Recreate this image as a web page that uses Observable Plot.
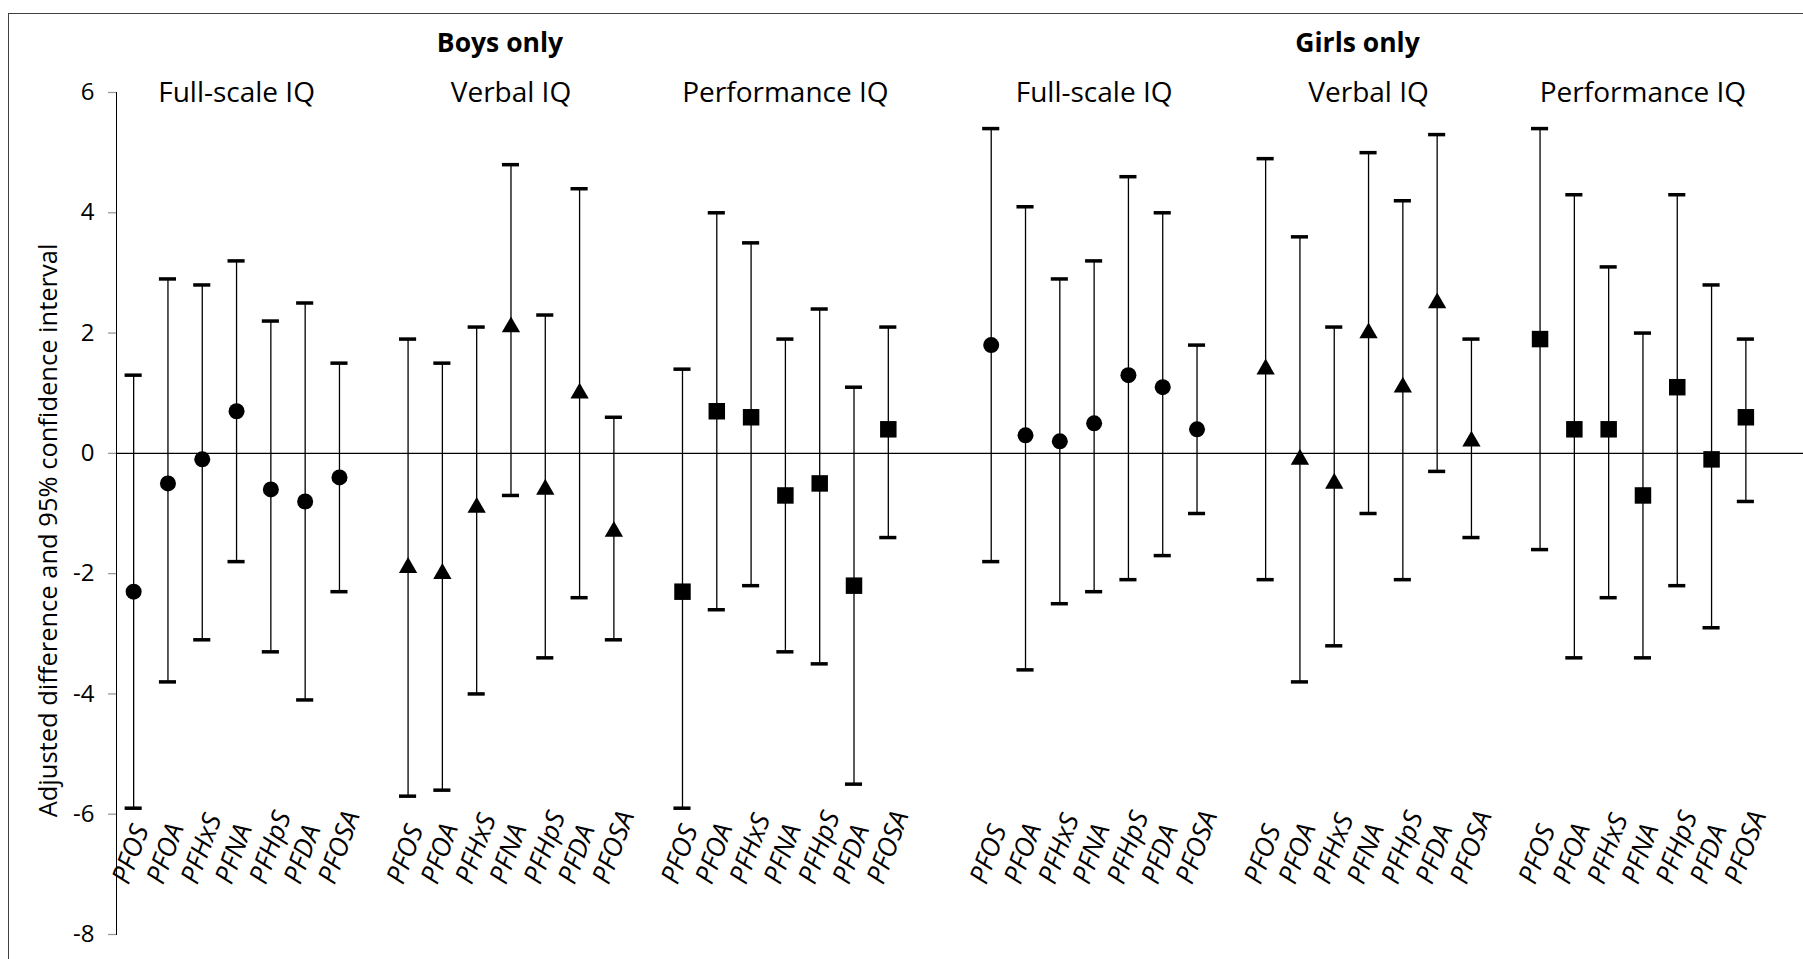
<!DOCTYPE html>
<html><head><meta charset="utf-8">
<script src="https://cdn.jsdelivr.net/npm/d3@7"></script>
<script src="https://cdn.jsdelivr.net/npm/@observablehq/plot@0.6"></script>
<style>
html,body{margin:0;padding:0;background:#fff;overflow:hidden}
#wrap{position:relative;width:1803px;height:959px;overflow:hidden}
#chart svg{display:block}
#border{position:absolute;left:8px;top:13px;width:1900px;height:1100px;border:1.5px solid #3f3f3f;box-sizing:border-box;pointer-events:none}
svg g[aria-label^="y-axis"] path, svg g[aria-label^="y-axis"] line{stroke:#9a9a9a;stroke-width:1.3}
</style></head><body>
<div id="wrap"><div id="chart"></div><div id="border"></div></div>
<script>
const sexes = ["Boys only", "Girls only"];
const measures = ["Full-scale IQ", "Verbal IQ", "Performance IQ"];
const compounds = ["PFOS", "PFOA", "PFHxS", "PFNA", "PFHpS", "PFDA", "PFOSA"];
const yTicks = [-8, -6, -4, -2, 0, 2, 4, 6];
const yLabel = "Adjusted difference and 95% confidence interval";

const boysFull     = [-2.3, -0.5, -0.1, 0.7, -0.6, -0.8, -0.4];
const boysFullLo   = [-5.9, -3.8, -3.1, -1.8, -3.3, -4.1, -2.3];
const boysFullHi   = [1.3, 2.9, 2.8, 3.2, 2.2, 2.5, 1.5];
const boysVerbal   = [-1.9, -2.0, -0.9, 2.1, -0.6, 1.0, -1.3];
const boysVerbalLo = [-5.7, -5.6, -4.0, -0.7, -3.4, -2.4, -3.1];
const boysVerbalHi = [1.9, 1.5, 2.1, 4.8, 2.3, 4.4, 0.6];
const boysPerf     = [-2.3, 0.7, 0.6, -0.7, -0.5, -2.2, 0.4];
const boysPerfLo   = [-5.9, -2.6, -2.2, -3.3, -3.5, -5.5, -1.4];
const boysPerfHi   = [1.4, 4.0, 3.5, 1.9, 2.4, 1.1, 2.1];
const girlsFull     = [1.8, 0.3, 0.2, 0.5, 1.3, 1.1, 0.4];
const girlsFullLo   = [-1.8, -3.6, -2.5, -2.3, -2.1, -1.7, -1.0];
const girlsFullHi   = [5.4, 4.1, 2.9, 3.2, 4.6, 4.0, 1.8];
const girlsVerbal   = [1.4, -0.1, -0.5, 2.0, 1.1, 2.5, 0.2];
const girlsVerbalLo = [-2.1, -3.8, -3.2, -1.0, -2.1, -0.3, -1.4];
const girlsVerbalHi = [4.9, 3.6, 2.1, 5.0, 4.2, 5.3, 1.9];
const girlsPerf     = [1.9, 0.4, 0.4, -0.7, 1.1, -0.1, 0.6];
const girlsPerfLo   = [-1.6, -3.4, -2.4, -3.4, -2.2, -2.9, -0.8];
const girlsPerfHi   = [5.4, 4.3, 3.1, 2.0, 4.3, 2.8, 1.9];

const panels = {
  "Boys only": [[boysFull, boysFullLo, boysFullHi], [boysVerbal, boysVerbalLo, boysVerbalHi], [boysPerf, boysPerfLo, boysPerfHi]],
  "Girls only": [[girlsFull, girlsFullLo, girlsFullHi], [girlsVerbal, girlsVerbalLo, girlsVerbalHi], [girlsPerf, girlsPerfLo, girlsPerfHi]]
};

const rows = [];
const domain = [];
let gapN = 0;
sexes.forEach((s, si) => {
  if (si > 0) { domain.push("gap" + gapN++); domain.push("gap" + gapN++); }
  measures.forEach((m, mi) => {
    if (mi > 0) domain.push("gap" + gapN++);
    const [est, lo, hi] = panels[s][mi];
    compounds.forEach((c, i) => {
      const key = s + "|" + m + "|" + c;
      domain.push(key);
      rows.push({key, sex: s, measure: m, compound: c, idx: i, est: est[i], lo: lo[i], hi: hi[i]});
    });
  });
});
const mid = Math.floor(compounds.length / 2);
const titleRows = rows.filter(d => d.idx === mid);
const sexRows = titleRows.filter(d => d.measure === measures[1]);

const symbolFor = {"Full-scale IQ": "circle", "Verbal IQ": "triangle", "Performance IQ": "square"};
const rFor = {"Full-scale IQ": 8, "Verbal IQ": 6.8, "Performance IQ": 9.3};

const chart = Plot.plot({
  width: 1803, height: 959,
  marginLeft: 116, marginRight: 0, marginTop: 92, marginBottom: 25,
  style: {fontFamily: "'Open Sans', sans-serif", fontSize: "24px", color: "#000", background: "transparent"},
  x: {type: "band", domain, paddingInner: 0, paddingOuter: 0.59, align: 0, round: false, axis: null},
  y: {domain: [-8, 6], ticks: yTicks, tickSize: 8, tickPadding: 14, line: true, label: null, tickFormat: d => String(d)},
  marks: [
    Plot.ruleY([0], {stroke: "#000", strokeWidth: 1.3}),
    Plot.ruleX(rows, {x: "key", y1: "lo", y2: "hi", stroke: "#000", strokeWidth: 1.3}),
    Plot.tickY(rows, {x: "key", y: "lo", stroke: "#000", strokeWidth: 3.5, insetLeft: 8.6, insetRight: 8.6}),
    Plot.tickY(rows, {x: "key", y: "hi", stroke: "#000", strokeWidth: 3.5, insetLeft: 8.6, insetRight: 8.6}),
    ...measures.map(m => Plot.dot(rows.filter(d => d.measure === m), {
      x: "key", y: "est", symbol: symbolFor[m], r: rFor[m], fill: "#000", stroke: "none"
    })),
    Plot.text(rows, {x: "key", text: "compound", frameAnchor: "bottom", lineAnchor: "middle", dy: -52, dx: -13, rotate: -70,
      textAnchor: "start", fontStyle: "italic", fontSize: 26.5}),
    Plot.text(titleRows, {x: "key", text: "measure", frameAnchor: "top", lineAnchor: "top", dy: -10, fontSize: 28}),
    Plot.text(sexRows, {x: "key", text: "sex", frameAnchor: "top", lineAnchor: "top", dy: -59, dx: -11, fontSize: 26.5, fontWeight: "bold", ariaLabel: "sex-title"}),
    Plot.text([yLabel], {text: d => d, frameAnchor: "left", textAnchor: "middle", lineAnchor: "middle", rotate: -90, dx: -68, dy: 17, fontSize: 25.5})
  ]
});
document.getElementById("chart").appendChild(chart);
d3.select(chart).selectAll('g[aria-label="sex-title"] text').style("text-decoration", "underline");
</script>
</body></html>
